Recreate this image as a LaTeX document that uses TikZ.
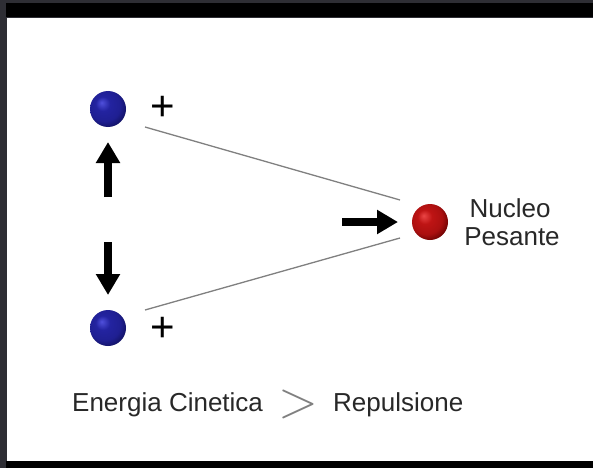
\documentclass[tikz,border=0pt]{standalone}
\usepackage{fontspec}
\setmainfont{Liberation Sans}
\usepackage{tikz}
\usetikzlibrary{positioning, arrows.meta, calc}

\definecolor{framegray}{RGB}{46,46,52}
\definecolor{blulight}{RGB}{80,80,220}
\definecolor{blumid}{RGB}{35,35,160}
\definecolor{bludark}{RGB}{15,15,90}
\definecolor{redlight}{RGB}{235,70,70}
\definecolor{redmid}{RGB}{190,20,20}
\definecolor{reddark}{RGB}{95,0,0}
\definecolor{textgray}{RGB}{40,40,40}

\pgfdeclareradialshading{protonshade}{\pgfpoint{-9bp}{9bp}}{%
  color(0bp)=(blulight); color(10bp)=(blumid); color(22bp)=(blumid!80!bludark);
  color(32bp)=(bludark); color(50bp)=(bludark)}
\pgfdeclareradialshading{nucleusshade}{\pgfpoint{-9bp}{9bp}}{%
  color(0bp)=(redlight); color(10bp)=(redmid); color(22bp)=(redmid!80!reddark);
  color(32bp)=(reddark); color(50bp)=(reddark)}

\begin{document}
\begin{tikzpicture}[x=1pt, y=-1pt, node distance=219pt, on grid,
    proton/.style={circle, minimum size=36pt, inner sep=0pt, shading=protonshade},
    nucleus/.style={circle, minimum size=36pt, inner sep=0pt, shading=nucleusshade},
    fatarrow/.style={line width=8pt, -{Triangle[width=23pt,length=21pt]}},
    bond/.style={draw=gray, line width=1.3pt},
    charge/.style={font=\fontsize{42}{42}\selectfont, inner sep=0pt},
    caption/.style={font=\fontsize{26}{28}\selectfont, text=textgray, inner sep=0pt}]
        \useasboundingbox (0,0) rectangle (593,468);
        % frame
        \fill[framegray] (0,0) rectangle (593,468);
        \fill[black]     (6,3) rectangle (593,17.5);
        \fill[white]     (7,18) rectangle (593,460.5);
        \fill[black]     (6,461) rectangle (593,468);

        \node[proton]  (p1) at (108,109)    {};
        \node[proton]  (p2) [below=of p1]   {};
        \node[nucleus] (n)  at (430,222)    {};

        \node[charge] (c1) at (163,108.5) {+};
        \node[charge] (c2) at (163,329)   {+};

        \node[caption, anchor=base] (nucleo)  at (510,217) {Nucleo};
        \node[caption, anchor=base] (pesante) at (512,245) {Pesante};

        \coordinate (b1a) at ($(p1)+(37,18)$);
        \coordinate (b1b) at ($(n)+(-30,-22)$);
        \coordinate (b2a) at ($(p2)+(37,-18)$);
        \coordinate (b2b) at ($(n)+(-30,16)$);
        \path[bond] (b1a) -- (b1b);
        \path[bond] (b2a) -- (b2b);

        \coordinate (up0) at ($(p1)+(0,88)$);
        \coordinate (up1) at ($(p1)+(0,33)$);
        \coordinate (dn0) at ($(p2)+(0,-86)$);
        \coordinate (dn1) at ($(p2)+(0,-33)$);
        \coordinate (rt0) at ($(n)+(-88,0)$);
        \coordinate (rt1) at ($(n)+(-32,0)$);
        \draw[fatarrow] (up0) -- (up1);
        \draw[fatarrow] (dn0) -- (dn1);
        \draw[fatarrow] (rt0) -- (rt1);

        \node[caption, anchor=base west] (energia) at (72,411.7) {Energia Cinetica};
        \node[text=gray, inner sep=0pt, scale=2.1, font=\fontsize{24}{24}\selectfont] (gt) at (298,404) {$>$};
        \node[caption, anchor=base west] (repuls) at (333,411.7) {Repulsione};
      \end{tikzpicture}
\end{document}
